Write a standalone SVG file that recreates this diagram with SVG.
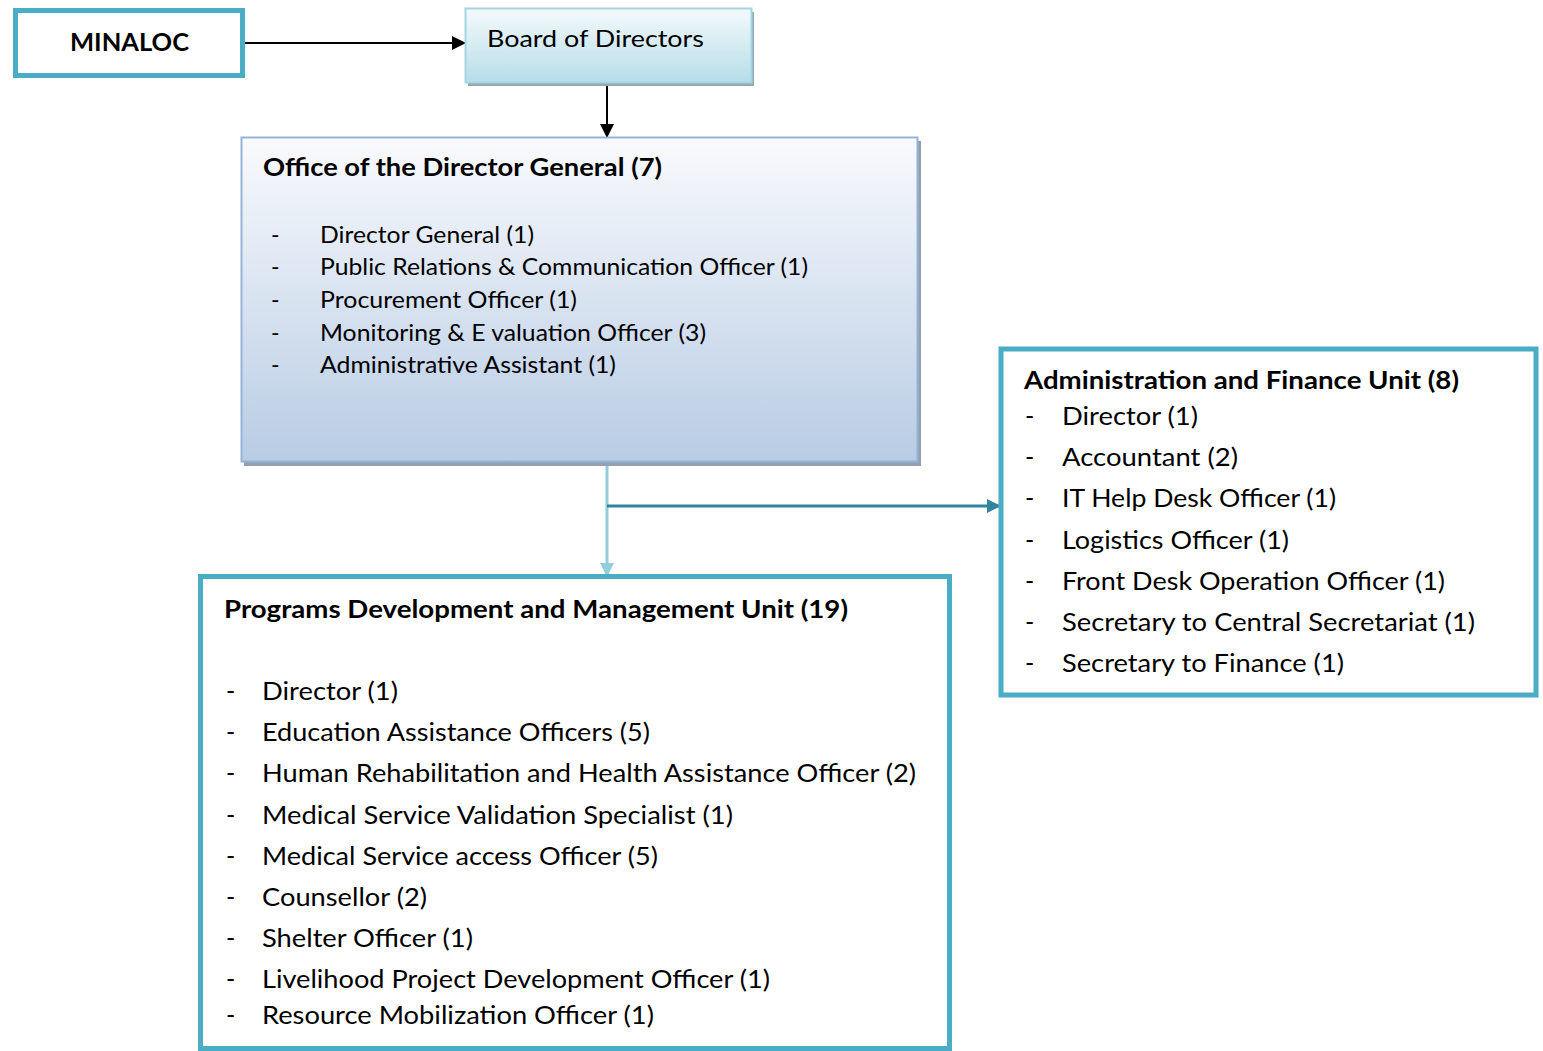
<svg xmlns="http://www.w3.org/2000/svg" width="1543" height="1051" viewBox="0 0 1543 1051">
<style>
text{font-family:Lato,"Open Sans","Liberation Sans",sans-serif;fill:#000}
.b{font-weight:bold}
.t24{font-size:24px}
.t23{font-size:23px}
.t25{font-size:25px}
.teal{fill:#fff;stroke:#4BACC6;stroke-width:5}
</style>
<defs>
<linearGradient id="gBoard" x1="0" y1="0" x2="0" y2="1">
<stop offset="0" stop-color="#F4FAFC"/><stop offset="1" stop-color="#B6DDE8"/>
</linearGradient>
<linearGradient id="gOffice" x1="0" y1="0" x2="0" y2="1">
<stop offset="0" stop-color="#F9FAFD"/><stop offset="1" stop-color="#B8CCE4"/>
</linearGradient>
<marker id="mBlack" markerWidth="14" markerHeight="14" refX="13" refY="7" orient="auto" markerUnits="userSpaceOnUse" viewBox="0 0 14 14">
<path d="M0,0 L14,7 L0,14 z" fill="#000"/>
</marker>
<marker id="mLight" markerWidth="14" markerHeight="14" refX="13" refY="7" orient="auto" markerUnits="userSpaceOnUse" viewBox="0 0 14 14">
<path d="M0,0 L14,7 L0,14 z" fill="#92CDDC"/>
</marker>
<marker id="mDark" markerWidth="14" markerHeight="14" refX="13" refY="7" orient="auto" markerUnits="userSpaceOnUse" viewBox="0 0 14 14">
<path d="M0,0 L14,7 L0,14 z" fill="#31849B"/>
</marker>
</defs>

<g id="connectors">
<line x1="243" y1="43" x2="465" y2="43" stroke="#000" stroke-width="2" marker-end="url(#mBlack)"/>
<line x1="607" y1="84" x2="607" y2="137" stroke="#000" stroke-width="2" marker-end="url(#mBlack)"/>
<line x1="607" y1="464" x2="607" y2="576" stroke="#92CDDC" stroke-width="3" marker-end="url(#mLight)"/>
<line x1="607" y1="506" x2="1000" y2="506" stroke="#31849B" stroke-width="3" marker-end="url(#mDark)"/>
</g>

<g id="minaloc">
<rect class="teal" x="15.5" y="10.5" width="227" height="65"/>
<text class="b t24" x="70" y="51" textLength="119" lengthAdjust="spacingAndGlyphs">MINALOC</text>
</g>

<g id="board">
<rect x="468" y="12" width="286" height="74" fill="#94A9B5"/>
<rect x="465.5" y="8.5" width="286" height="74" fill="url(#gBoard)" stroke="#A5D5E2" stroke-width="2"/>
<text class="t24" x="487" y="47" textLength="217" lengthAdjust="spacingAndGlyphs">Board of Directors</text>
</g>

<g id="office">
<rect x="244" y="141" width="677" height="325" fill="#94A0B0"/>
<rect x="241.5" y="137.5" width="676" height="324" fill="url(#gOffice)" stroke="#95B3D7" stroke-width="2"/>
<text class="b t24" x="263" y="176" textLength="399" lengthAdjust="spacingAndGlyphs">Office of the Director General (7)</text>
<g class="t23">
<text x="271" y="243">-</text><text x="320" y="243" textLength="214" lengthAdjust="spacingAndGlyphs">Director General (1)</text>
<text x="271" y="275">-</text><text x="320" y="275" textLength="488" lengthAdjust="spacingAndGlyphs">Public Relations &amp; Communication Officer (1)</text>
<text x="271" y="308">-</text><text x="320" y="308" textLength="257" lengthAdjust="spacingAndGlyphs">Procurement Officer (1)</text>
<text x="271" y="341">-</text><text x="320" y="341" textLength="386" lengthAdjust="spacingAndGlyphs">Monitoring &amp; E valuation Officer (3)</text>
<text x="271" y="373">-</text><text x="320" y="373" textLength="296" lengthAdjust="spacingAndGlyphs">Administrative Assistant (1)</text>
</g>
</g>

<g id="admin">
<rect class="teal" x="1001" y="349" width="535" height="346"/>
<text class="b t24" x="1024" y="389" textLength="435" lengthAdjust="spacingAndGlyphs">Administration and Finance Unit (8)</text>
<g class="t25">
<text x="1025" y="425">-</text><text x="1062" y="425" textLength="136" lengthAdjust="spacingAndGlyphs">Director (1)</text>
<text x="1025" y="466">-</text><text x="1062" y="466" textLength="176" lengthAdjust="spacingAndGlyphs">Accountant (2)</text>
<text x="1025" y="507">-</text><text x="1062" y="507" textLength="274" lengthAdjust="spacingAndGlyphs">IT Help Desk Officer (1)</text>
<text x="1025" y="549">-</text><text x="1062" y="549" textLength="227" lengthAdjust="spacingAndGlyphs">Logistics Officer (1)</text>
<text x="1025" y="590">-</text><text x="1062" y="590" textLength="383" lengthAdjust="spacingAndGlyphs">Front Desk Operation Officer (1)</text>
<text x="1025" y="631">-</text><text x="1062" y="631" textLength="413" lengthAdjust="spacingAndGlyphs">Secretary to Central Secretariat (1)</text>
<text x="1025" y="672">-</text><text x="1062" y="672" textLength="282" lengthAdjust="spacingAndGlyphs">Secretary to Finance (1)</text>
</g>
</g>

<g id="programs">
<rect class="teal" x="200.5" y="576.5" width="749" height="472"/>
<text class="b t24" x="224" y="618" textLength="624" lengthAdjust="spacingAndGlyphs">Programs Development and Management Unit (19)</text>
<g class="t25">
<text x="226" y="700">-</text><text x="262" y="700" textLength="136" lengthAdjust="spacingAndGlyphs">Director (1)</text>
<text x="226" y="741">-</text><text x="262" y="741" textLength="388" lengthAdjust="spacingAndGlyphs">Education Assistance Officers (5)</text>
<text x="226" y="782">-</text><text x="262" y="782" textLength="654" lengthAdjust="spacingAndGlyphs">Human Rehabilitation and Health Assistance Officer (2)</text>
<text x="226" y="824">-</text><text x="262" y="824" textLength="471" lengthAdjust="spacingAndGlyphs">Medical Service Validation Specialist (1)</text>
<text x="226" y="865">-</text><text x="262" y="865" textLength="396" lengthAdjust="spacingAndGlyphs">Medical Service access Officer (5)</text>
<text x="226" y="906">-</text><text x="262" y="906" textLength="165" lengthAdjust="spacingAndGlyphs">Counsellor (2)</text>
<text x="226" y="947">-</text><text x="262" y="947" textLength="211" lengthAdjust="spacingAndGlyphs">Shelter Officer (1)</text>
<text x="226" y="988">-</text><text x="262" y="988" textLength="508" lengthAdjust="spacingAndGlyphs">Livelihood Project Development Officer (1)</text>
<text x="226" y="1024">-</text><text x="262" y="1024" textLength="392" lengthAdjust="spacingAndGlyphs">Resource Mobilization Officer (1)</text>
</g>
</g>
</svg>
